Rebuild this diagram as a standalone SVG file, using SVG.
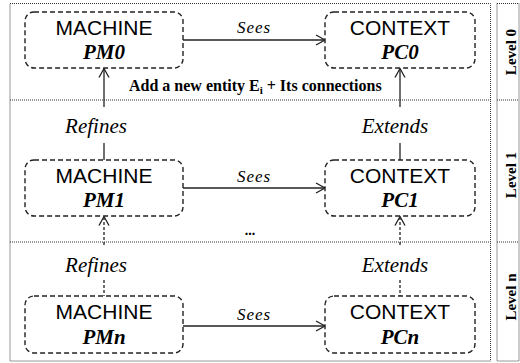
<svg xmlns="http://www.w3.org/2000/svg" width="520" height="363" viewBox="0 0 520 363">
<style>
.frame{fill:none;stroke:#333;stroke-width:1;stroke-dasharray:1,1}
.node{fill:#fff;stroke:#222;stroke-width:1.4;stroke-dasharray:5,3}
.sans{font-family:"Liberation Sans",Arial,sans-serif;font-size:21px;fill:#000;text-anchor:middle}
.id{font-family:"Liberation Serif","Times New Roman",serif;font-size:21px;font-weight:bold;font-style:italic;fill:#000;text-anchor:middle}
.lbl{font-family:"Liberation Serif","Times New Roman",serif;font-size:21px;font-style:italic;fill:#000;text-anchor:middle}
.sees{font-family:"Liberation Serif","Times New Roman",serif;font-size:17px;font-style:italic;fill:#000;text-anchor:middle;letter-spacing:1px}
.bold{font-family:"Liberation Serif","Times New Roman",serif;font-weight:bold;fill:#000}
.line{fill:none;stroke:#222;stroke-width:1.3}
.dline{fill:none;stroke:#222;stroke-width:1.3;stroke-dasharray:3,2}
</style>
<defs>
<marker id="arr" markerWidth="12" markerHeight="12" refX="10" refY="6" orient="auto" markerUnits="userSpaceOnUse">
<path d="M1,1 L10,6 L1,11" fill="none" stroke="#222" stroke-width="1.3"/>
</marker>
</defs>
<g id="frames">
<rect class="frame" x="10" y="3.5" width="480.5" height="357.5"/>
<line class="frame" x1="10" y1="100" x2="490.5" y2="100"/>
<line class="frame" x1="10" y1="242" x2="490.5" y2="242"/>
<rect class="frame" x="497" y="3.5" width="22" height="357.5"/>
<line class="frame" x1="497" y1="100" x2="519" y2="100"/>
<line class="frame" x1="497" y1="242" x2="519" y2="242"/>
<text class="bold" font-size="15" text-anchor="middle" transform="translate(516,52) rotate(-90)">Level 0</text>
<text class="bold" font-size="15" text-anchor="middle" transform="translate(516,175) rotate(-90)">Level 1</text>
<text class="bold" font-size="15" text-anchor="middle" transform="translate(516,297) rotate(-90)">Level n</text>
</g>
<g id="connectors">
<line class="line" x1="183" y1="40" x2="325" y2="40" marker-end="url(#arr)"/>
<text class="sees" x="254" y="33">Sees</text>
<line class="line" x1="183" y1="188" x2="325" y2="188" marker-end="url(#arr)"/>
<text class="sees" x="254" y="182">Sees</text>
<line class="line" x1="183" y1="326" x2="325" y2="326" marker-end="url(#arr)"/>
<text class="sees" x="254" y="320">Sees</text>
<line class="line" x1="104" y1="107" x2="104" y2="68.5" marker-end="url(#arr)"/>
<text class="lbl" x="96" y="133">Refines</text>
<line class="line" x1="104" y1="143" x2="104" y2="160"/>
<line class="line" x1="400" y1="107" x2="400" y2="68.5" marker-end="url(#arr)"/>
<text class="lbl" x="395" y="133">Extends</text>
<line class="line" x1="400" y1="143" x2="400" y2="160"/>
<line class="dline" x1="104" y1="245" x2="104" y2="216.5" marker-end="url(#arr)"/>
<text class="lbl" x="96" y="272">Refines</text>
<line class="dline" x1="104" y1="280" x2="104" y2="296"/>
<line class="dline" x1="400" y1="245" x2="400" y2="216.5" marker-end="url(#arr)"/>
<text class="lbl" x="395" y="272">Extends</text>
<line class="dline" x1="400" y1="280" x2="400" y2="296"/>
<text class="bold" font-size="16" x="129" y="91">Add a new entity E<tspan font-size="11" dy="3">i</tspan><tspan dy="-3"> + Its connections</tspan></text>
<text class="bold" font-size="14" x="250" y="235" text-anchor="middle">...</text>
</g>
<g id="PM0">
<rect class="node" x="25" y="12" width="158" height="56" rx="9"/>
<text class="sans" x="104" y="35">MACHINE</text>
<text class="id" x="104" y="59">PM0</text>
</g>
<g id="PC0">
<rect class="node" x="325" y="12" width="150" height="56" rx="9"/>
<text class="sans" x="400" y="35">CONTEXT</text>
<text class="id" x="400" y="59">PC0</text>
</g>
<g id="PM1">
<rect class="node" x="25" y="160" width="158" height="56" rx="9"/>
<text class="sans" x="104" y="183">MACHINE</text>
<text class="id" x="104" y="207">PM1</text>
</g>
<g id="PC1">
<rect class="node" x="325" y="160" width="150" height="56" rx="9"/>
<text class="sans" x="400" y="183">CONTEXT</text>
<text class="id" x="400" y="207">PC1</text>
</g>
<g id="PMn">
<rect class="node" x="25" y="296" width="158" height="57" rx="9"/>
<text class="sans" x="104" y="319">MACHINE</text>
<text class="id" x="104" y="344">PMn</text>
</g>
<g id="PCn">
<rect class="node" x="325" y="296" width="150" height="57" rx="9"/>
<text class="sans" x="400" y="319">CONTEXT</text>
<text class="id" x="400" y="344">PCn</text>
</g>
</svg>
